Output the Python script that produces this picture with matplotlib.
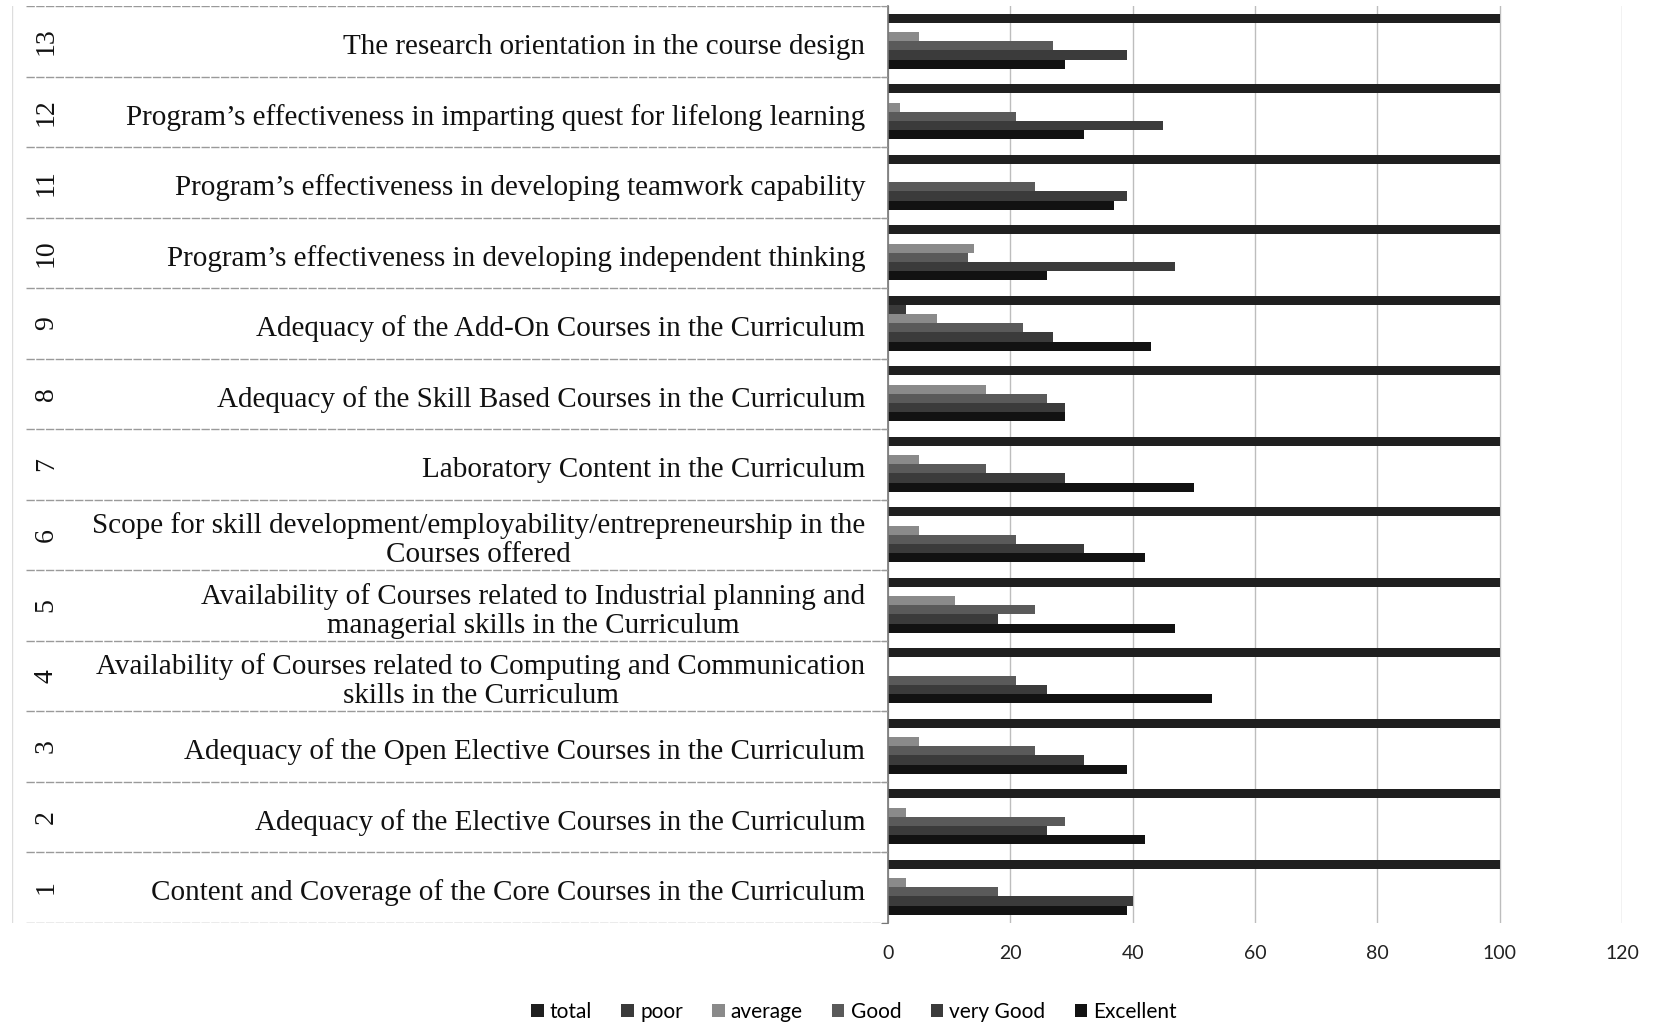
import matplotlib
matplotlib.use("Agg")
import matplotlib.pyplot as plt
from matplotlib.patches import Patch

# survey items, numbered 1..13 from the bottom row up
ITEM_NO = list(range(1, 14))
ITEMS = [
    "Content and Coverage of the Core Courses in the Curriculum",
    "Adequacy of the Elective Courses in the Curriculum",
    "Adequacy of the Open Elective Courses in the Curriculum",
    "Availability of Courses related to Computing and Communication\nskills in the Curriculum",
    "Availability of Courses related to Industrial planning and\nmanagerial skills in the Curriculum",
    "Scope for skill development/employability/entrepreneurship in the\nCourses offered",
    "Laboratory Content in the Curriculum",
    "Adequacy of the Skill Based Courses in the Curriculum",
    "Adequacy of the Add-On Courses in the Curriculum",
    "Program\u2019s effectiveness in developing independent thinking",
    "Program\u2019s effectiveness in developing teamwork capability",
    "Program\u2019s effectiveness in imparting quest for lifelong learning",
    "The research orientation in the course design",
]

SERIES = ["total", "poor", "average", "Good", "very Good", "Excellent"]
TOTAL = [100] * 13
POOR = [0, 0, 0, 0, 0, 0, 0, 0, 3, 0, 0, 0, 0]
AVERAGE = [3, 3, 5, 0, 11, 5, 5, 16, 8, 14, 0, 2, 5]
GOOD = [18, 29, 24, 21, 24, 21, 16, 26, 22, 13, 24, 21, 27]
VERY_GOOD = [40, 26, 32, 26, 18, 32, 29, 29, 27, 47, 39, 45, 39]
EXCELLENT = [39, 42, 39, 53, 47, 42, 50, 29, 43, 26, 37, 32, 29]
XTICKS = [0, 20, 40, 60, 80, 100, 120]

COLORS = ["#1f1f1f", "#3a3a3a", "#8a8a8a", "#5a5a5a", "#3b3b3b", "#121212"]

values = [TOTAL, POOR, AVERAGE, GOOD, VERY_GOOD, EXCELLENT]

fig = plt.figure(figsize=(16.53, 10.33), dpi=100)
bottom, top = 1 - 922.5 / 1033, 1 - 6 / 1033
x0, x1 = 888 / 1653, 1622 / 1653
ax = fig.add_axes([x0, bottom, x1 - x0, top - bottom])
tab = fig.add_axes([12 / 1653, bottom, x0 - 12 / 1653, top - bottom])

h = 0.13
for i, (name, vals) in enumerate(zip(SERIES, values)):
    ys = [n + (2.5 - i) * h for n in ITEM_NO]
    ax.barh(ys, vals, height=h, color=COLORS[i], label=name, linewidth=0)

ax.set_xlim(0, 120)
ax.set_ylim(0.5, 13.5)
ax.set_xticks(XTICKS)
ax.set_xticklabels([str(t) for t in XTICKS], family="Lato", fontsize=14, color="#222222")
ax.tick_params(axis="x", length=0, pad=16)
ax.set_yticks([n + 0.5 for n in range(0, 14)])
ax.set_yticklabels([])
ax.tick_params(axis="y", length=5, color="#777777", direction="out")
ax.grid(axis="x", color="#bdbdbd", linewidth=1)
ax.set_axisbelow(True)
for s in ["top", "right", "bottom"]:
    ax.spines[s].set_visible(False)
ax.spines["left"].set_color("#777777")
ax.spines["left"].set_linewidth(1.2)

# left-hand table: row number + item text
tab.set_xlim(0, 1)
tab.set_ylim(0.5, 13.5)
tab.axis("off")
tab.axvline(0.0, color="#dddddd", linewidth=1)
for n, label in zip(ITEM_NO, ITEMS):
    tab.text(0.974, n - 0.08, label, ha="right", va="center", multialignment="center",
             family="Liberation Serif", fontsize=21, color="#111111", linespacing=1.15)
    tab.text(0.039, n, str(n), ha="center", va="center", rotation=90,
             family="Liberation Serif", fontsize=20, color="#111111")
for n in range(0, 14):
    tab.plot([0.016, 1.0], [n + 0.5, n + 0.5], color="#9a9a9a", linewidth=1, linestyle=(0, (6, 1)))

handles = [Patch(facecolor=c, edgecolor="none") for c in COLORS]
fig.legend(handles, SERIES, loc="center", bbox_to_anchor=(854 / 1653, 1 - 1012 / 1033), ncol=6,
           frameon=False, handlelength=0.6, handleheight=0.6, handletextpad=0.3, columnspacing=1.4,
           prop={"family": "Lato", "size": 15})

fig.savefig("out.png", dpi=100, facecolor="white")
